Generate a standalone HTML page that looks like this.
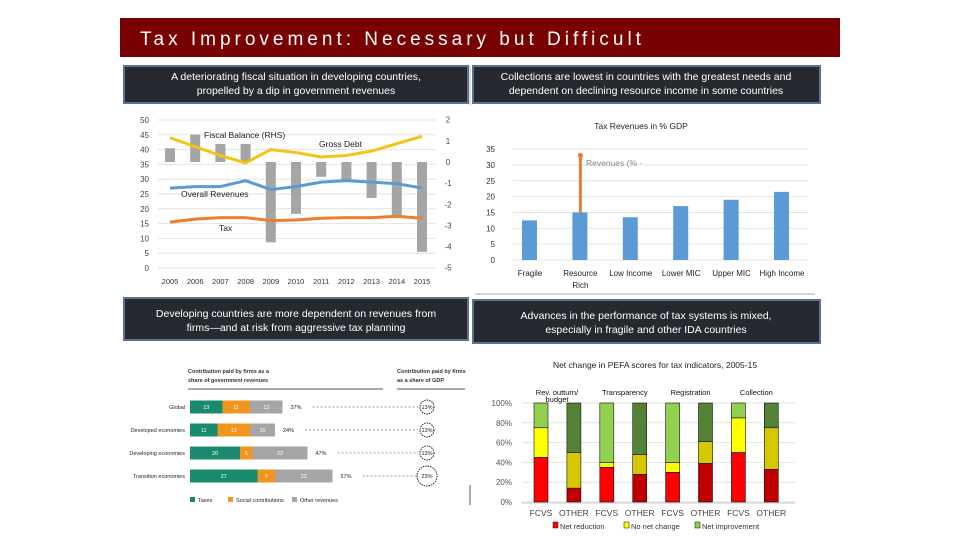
<!DOCTYPE html>
<html><head><meta charset="utf-8"><style>
body{margin:0;background:#fff;width:960px;height:540px;overflow:hidden;font-family:"Liberation Sans",sans-serif}
svg{position:absolute;left:0;top:0}
</style></head><body>
<svg id="s" width="960" height="540" xmlns="http://www.w3.org/2000/svg" font-family="Liberation Sans, sans-serif">
<rect x="120" y="18" width="720" height="39" fill="#780000"/>
<text x="140" y="45" fill="#fff" font-size="19" letter-spacing="4">Tax Improvement: Necessary but Difficult</text>
<line x1="470" y1="66" x2="470" y2="105" stroke="#bbb"/>
<g><rect x="124" y="66" width="344" height="37" fill="#262a30" stroke="#5b7590" stroke-width="2"/>
<text x="296" y="80" fill="#fff" font-size="10.5" text-anchor="middle">A deteriorating fiscal situation in developing countries,</text><text x="296" y="94" fill="#fff" font-size="10.5" text-anchor="middle">propelled by a dip in government revenues</text></g>
<g><rect x="473" y="66" width="347" height="37" fill="#262a30" stroke="#5b7590" stroke-width="2"/>
<text x="646" y="80" fill="#fff" font-size="10.5" text-anchor="middle">Collections are lowest in countries with the greatest needs and</text><text x="646" y="94" fill="#fff" font-size="10.5" text-anchor="middle">dependent on declining resource income in some countries</text></g>
<g><rect x="124" y="298" width="344" height="42" fill="#262a30" stroke="#5b7590" stroke-width="2"/>
<text x="296" y="317" fill="#fff" font-size="10.5" text-anchor="middle">Developing countries are more dependent on revenues from</text><text x="296" y="331" fill="#fff" font-size="10.5" text-anchor="middle">firms—and at risk from aggressive tax planning</text></g>
<g><rect x="473" y="300" width="347" height="43" fill="#262a30" stroke="#5b7590" stroke-width="2"/>
<text x="646" y="319" fill="#fff" font-size="10.5" text-anchor="middle">Advances in the performance of tax systems is mixed,</text><text x="646" y="333" fill="#fff" font-size="10.5" text-anchor="middle">especially in  fragile and other IDA countries</text></g>
<g id="c1"></g><g id="c2"></g><g id="c3"></g><g id="c4"></g>
</svg>
<script>
// Chart 1 data
const years=["2005","2006","2007","2008","2009","2010","2011","2012","2013","2014","2015"];
const fiscalBalance=[0.65,1.3,0.85,0.85,-3.8,-2.45,-0.7,-0.85,-1.7,-2.6,-4.25];
const grossDebt=[44,41,38,35.5,40,39,37.5,38,39.5,42,44.5];
const revenues=[27,27.5,27.5,29.5,26.5,27.5,29,29.5,29,28.5,27];
const tax=[15.5,16.5,17,17,16,16.2,16.8,17,17,17.5,16.8];
const leftTicks=[0,5,10,15,20,25,30,35,40,45,50];
const rightTicks=[-5,-4,-3,-2,-1,0,1,2];
// Chart 2 data
const groups=["Fragile","Resource Rich","Low Income","Lower MIC","Upper MIC","High Income"];
const taxRev=[12.5,15,13.5,17,19,21.5];
const resourceRev=33;
const ticks2=[0,5,10,15,20,25,30,35];
// Chart 3 data
const economies=["Global","Developed economies","Developing economies","Transition economies"];
const taxesShare=[13,11,20,27];
const socialShare=[11,13,5,7];
const otherShare=[13,10,22,23];
const totals=["37%","24%","47%","57%"];
const gdpShare=["13%","13%","13%","23%"];
// Chart 4 data
const indicators=["Rev. outturn/ budget","Transparency","Registration","Collection"];
const netReduction=[45,14,35,28,30,39,50,33];
const noChange=[30,36,5,20,10,22,35,42];
const netImprove=[25,50,60,52,60,39,15,25];
const ticks4=[0,20,40,60,80,100];

const NS="http://www.w3.org/2000/svg";
function mk(p,t,a,txt){const e=document.createElementNS(NS,t);for(const k in a)e.setAttribute(k,a[k]);if(txt!==undefined)e.textContent=txt;p.appendChild(e);return e;}

// ---- Chart 1
(function(){
const g=document.getElementById('c1');
const yL=v=>268-v*2.96, yR=v=>162-v*21.14, x=i=>170+i*25.2;
leftTicks.forEach(t=>{mk(g,'line',{x1:158,x2:436,y1:yL(t),y2:yL(t),stroke:'#e2e2e2'});
 const l=mk(g,'text',{x:149,y:yL(t)+3,'font-size':8,'text-anchor':'end',fill:'#444'},t);
 
 });
rightTicks.forEach(t=>{const l=mk(g,'text',{x:448,y:yR(t)+3,'font-size':8,'text-anchor':'middle',fill:'#444'},t);
 
 });
years.forEach((yv,i)=>{const l=mk(g,'text',{x:x(i),y:284,'font-size':7.5,'text-anchor':'middle',fill:'#333'},yv);
 
 });
fiscalBalance.forEach((v,i)=>{const r=mk(g,'rect',{x:x(i)-5,y:Math.min(yR(v),yR(0)),width:10,height:Math.abs(yR(v)-yR(0)),fill:'#a5a5a5'});
 
 });
[[grossDebt,'#f3c318','gross-debt-line'],[revenues,'#5b9bd5','overall-revenues-line'],[tax,'#ed7d31','tax-line']].forEach(([d,c,n])=>{
 const p=mk(g,'polyline',{points:d.map((v,i)=>x(i)+','+yL(v)).join(' '),fill:'none',stroke:c,'stroke-width':3,'stroke-linejoin':'round'});
 
 });
[['Fiscal Balance (RHS)',204,138,'fiscal-balance-label'],['Gross Debt',319,147,'gross-debt-label'],['Overall Revenues',181,197,'revenues-label'],['Tax',219,231,'tax-label']].forEach(([t,a,b,n])=>{
 const l=mk(g,'text',{x:a,y:b,'font-size':8.5,fill:'#222'},t);
 
 });
})();

// ---- Chart 2
(function(){
const g=document.getElementById('c2');
const y=v=>260-v*3.17, x=i=>530+i*50.4;
const t=mk(g,'text',{x:641,y:129,'font-size':8.5,'text-anchor':'middle',fill:'#222'},'Tax Revenues in % GDP');


ticks2.forEach(v=>{mk(g,'line',{x1:513,x2:808,y1:y(v),y2:y(v),stroke:'#e2e2e2'});
 const l=mk(g,'text',{x:495,y:y(v)+3,'font-size':8,'text-anchor':'end',fill:'#333'},v);
 
 });
taxRev.forEach((v,i)=>{const r=mk(g,'rect',{x:x(i)-8,y:y(v),width:15,height:y(0)-y(v),fill:'#5b9bd5'});
 
 });
mk(g,'line',{x1:x(1),x2:x(1),y1:y(taxRev[1]),y2:y(resourceRev),stroke:'#ed7d31','stroke-width':3});
mk(g,'circle',{cx:x(1),cy:y(resourceRev),r:2.5,fill:'#ed7d31'});
const rl=mk(g,'text',{x:586,y:166,'font-size':8.5,fill:'#888'},'Revenues (% ·');


groups.forEach((gname,i)=>{const w=gname.split(' ');
 const lines=(gname==='Resource Rich')?w:[gname];
 lines.forEach((ln,j)=>{const l=mk(g,'text',{x:x(i),y:276+j*12,'font-size':8,'text-anchor':'middle',fill:'#222'},ln);
 
 });});
mk(g,'line',{x1:475,x2:815,y1:294,y2:294,stroke:'#aaa'});
})();

// ---- Chart 3
(function(){
const g=document.getElementById('c3');
mk(g,'text',{x:188,y:373,'font-size':5.5,fill:'#333','font-weight':'bold'},'Contribution paid by firms as a');
mk(g,'text',{x:188,y:382,'font-size':5.5,fill:'#333','font-weight':'bold'},'share of government revenues');
mk(g,'line',{x1:188,x2:383,y1:389,y2:389,stroke:'#555'});
mk(g,'text',{x:397,y:373,'font-size':5.5,fill:'#333','font-weight':'bold'},'Contribution paid by firms');
mk(g,'text',{x:397,y:382,'font-size':5.5,fill:'#333','font-weight':'bold'},'as a share of GDP');
mk(g,'line',{x1:397,x2:465,y1:389,y2:389,stroke:'#555'});
const sc=2.5, x0=190;
economies.forEach((e,i)=>{const cy=407+i*23;
 const l=mk(g,'text',{x:185,y:cy+2,'font-size':5.5,'text-anchor':'end',fill:'#222'},e);
 
 
 let cx=x0;
 [[taxesShare[i],'#1a8a6e'],[socialShare[i],'#f0961e'],[otherShare[i],'#a6a6a6']].forEach(([v,c])=>{
  const r=mk(g,'rect',{x:cx,y:cy-6.5,width:v*sc,height:13,fill:c});
  
  
  mk(g,'text',{x:cx+v*sc/2,y:cy+2,'font-size':5.5,'text-anchor':'middle',fill:'#fff'},v);
  cx+=v*sc;});
 mk(g,'text',{x:cx+8,y:cy+2,'font-size':5.5,fill:'#222'},totals[i]);
 mk(g,'line',{x1:cx+30,x2:418,y1:cy,y2:cy,stroke:'#999','stroke-dasharray':'2,2'});
 const rr=i===3?10:7;
 mk(g,'circle',{cx:427,cy:cy,r:rr,fill:'#fff',stroke:'#222','stroke-dasharray':'1.5,1'});
 mk(g,'text',{x:427,y:cy+2,'font-size':5.5,'text-anchor':'middle',fill:'#222'},gdpShare[i]);});
[['Taxes','#1a8a6e',190],['Social contributions','#f0961e',228],['Other revenues','#a6a6a6',292]].forEach(([t,c,xx])=>{
 mk(g,'rect',{x:xx,y:497,width:5,height:5,fill:c});
 mk(g,'text',{x:xx+8,y:502,'font-size':5.5,fill:'#222'},t);});
mk(g,'line',{x1:470,x2:470,y1:485,y2:505,stroke:'#555'});
})();

// ---- Chart 4
(function(){
const g=document.getElementById('c4');
const y=v=>502-v*0.99, x=i=>541+i*32.9;
const t=mk(g,'text',{x:655,y:368,'font-size':8.5,'text-anchor':'middle',fill:'#222'},'Net change in PEFA scores for tax indicators, 2005-15');


ticks4.forEach(v=>{mk(g,'line',{x1:522,x2:795,y1:y(v),y2:y(v),stroke:'#e2e2e2'});
 const l=mk(g,'text',{x:512,y:y(v)+3,'font-size':8,'text-anchor':'end',fill:'#555'},v+'%');
 
 });
const fc=[['#ff0000','#ffff00','#92d050'],['#c00000','#d6c800','#548235']];
netReduction.forEach((r,i)=>{const c=fc[i%2];let b=0;
 [[r,c[0]],[noChange[i],c[1]],[netImprove[i],c[2]]].forEach(([v,col])=>{
  const rc=mk(g,'rect',{x:x(i)-7,y:y(b+v),width:14,height:y(b)-y(b+v),fill:col,stroke:'#111','stroke-width':0.6});
  
  
  b+=v;});
 const l=mk(g,'text',{x:x(i),y:516,'font-size':8.5,'text-anchor':'middle',fill:'#444'},i%2?'OTHER':'FCVS');
 
 });
mk(g,'line',{x1:522,x2:795,y1:503,y2:503,stroke:'#ccc'});
[[0,395,'Rev. outturn/'],[0,402,'budget'],[1,395,'Transparency'],[2,395,'Registration'],[3,395,'Collection']].forEach(([k,yy,tx])=>{
 const l=mk(g,'text',{x:x(2*k)+(k===0?16:18),y:yy,'font-size':7.5,'text-anchor':'middle',fill:'#111'},tx);
 
 });
[['Net reduction','#ff0000',553],['No net change','#ffff00',624],['Net improvement','#92d050',695]].forEach(([tx,c,xx])=>{
 mk(g,'rect',{x:xx,y:522,width:5,height:6,fill:c,stroke:'#111','stroke-width':0.5});
 mk(g,'text',{x:xx+7,y:529,'font-size':7.5,fill:'#333'},tx);});
})();
</script>
</body></html>
